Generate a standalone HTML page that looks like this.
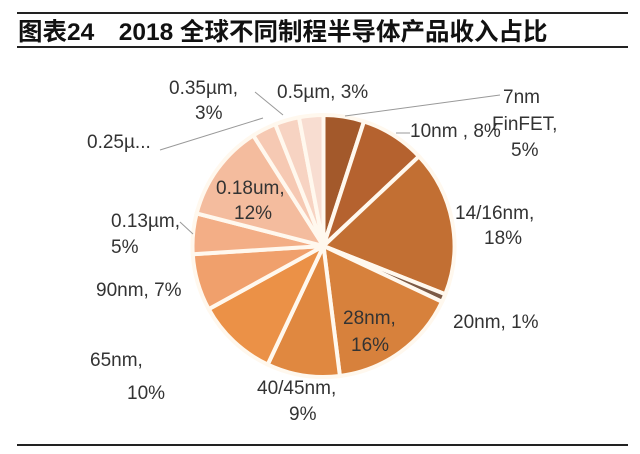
<!DOCTYPE html>
<html><head><meta charset="utf-8">
<style>
body{margin:0;background:#fff;width:640px;height:449px;overflow:hidden;font-family:"Liberation Sans","Noto Sans CJK SC",sans-serif;}
svg text{font-family:"Liberation Sans","Noto Sans CJK SC",sans-serif;}
</style></head>
<body>
<svg width="640" height="449">
<line x1="17" y1="13" x2="628" y2="13" stroke="#222" stroke-width="2"/>
<text x="18" y="40" font-size="24.5" font-weight="bold" fill="#111">图表24　2018 全球不同制程半导体产品收入占比</text>
<line x1="17" y1="47" x2="628" y2="47" stroke="#222" stroke-width="2"/>
<line x1="17" y1="445" x2="628" y2="445" stroke="#222" stroke-width="2"/>
<g id="pie"></g>
<g id="labels" font-size="19" fill="#333">
<line x1="345" y1="116" x2="500" y2="95" stroke="#999"/>
<line x1="396" y1="133" x2="410" y2="133" stroke="#999"/>
<line x1="263" y1="118" x2="160" y2="150" stroke="#999"/>
<line x1="283" y1="115" x2="255" y2="92" stroke="#999"/>
<line x1="193" y1="234" x2="180" y2="222" stroke="#999"/>
</g>
</svg>
<script>
const categories=["7nm FinFET","10nm","14/16nm","20nm","28nm","40/45nm","65nm","90nm","0.13µm","0.18um","0.25µm","0.35µm","0.5µm"];
const values=[5,8,18,1,16,9,10,7,5,12,3,3,3];
const colors=["#a3592b","#b5622f","#c26f33","#7c5a45","#d7813c","#e08840","#eb9147","#f0a06c","#f3ae86","#f4bc9e","#f6c9b3","#f7d3c2","#f8ddd1"];
const cx=323.5,cy=246,r=131;
const NS="http://www.w3.org/2000/svg";
const pie=document.getElementById('pie');
const total=values.reduce((a,b)=>a+b,0);
function pt(a,rr){return [cx+rr*Math.sin(a),cy-rr*Math.cos(a)];}
let acc=0;
values.forEach((v,i)=>{
 const a0=acc/total*2*Math.PI;acc+=v;const a1=acc/total*2*Math.PI;
 const p0=pt(a0,r),p1=pt(a1,r);
 const p=document.createElementNS(NS,'path');
 p.setAttribute('d',`M${cx},${cy}L${p0[0]},${p0[1]}A${r},${r} 0 ${a1-a0>Math.PI?1:0} 1 ${p1[0]},${p1[1]}Z`);
 p.setAttribute('fill',colors[i]);p.setAttribute('stroke','#fff8ee');p.setAttribute('stroke-width','4');
 
 
 pie.appendChild(p);
});
const labelText=[
 [[503,103,"7nm"],[492,130,"FinFET,"],[511,156,"5%"]],
 [[410,137,"10nm , 8%"]],
 [[455,219,"14/16nm,"],[484,244,"18%"]],
 [[453,328,"20nm, 1%"]],
 [[343,324,"28nm,"],[351,351,"16%"]],
 [[257,394,"40/45nm,"],[289,420,"9%"]],
 [[90,366,"65nm,"],[127,399,"10%"]],
 [[96,296,"90nm, 7%"]],
 [[111,227,"0.13µm,"],[111,253,"5%"]],
 [[216,194,"0.18um,"],[234,219,"12%"]],
 [[87,148,"0.25µ..."]],
 [[169,94,"0.35µm,"],[195,119,"3%"]],
 [[277,98,"0.5µm, 3%"]]
];
const lg=document.getElementById('labels');
labelText.forEach((lines,i)=>lines.forEach(([x,y,s])=>{
 const t=document.createElementNS(NS,'text');
 t.setAttribute('x',x);t.setAttribute('y',y);t.textContent=s;
 
 
 lg.appendChild(t);
}));
</script>
</body></html>
